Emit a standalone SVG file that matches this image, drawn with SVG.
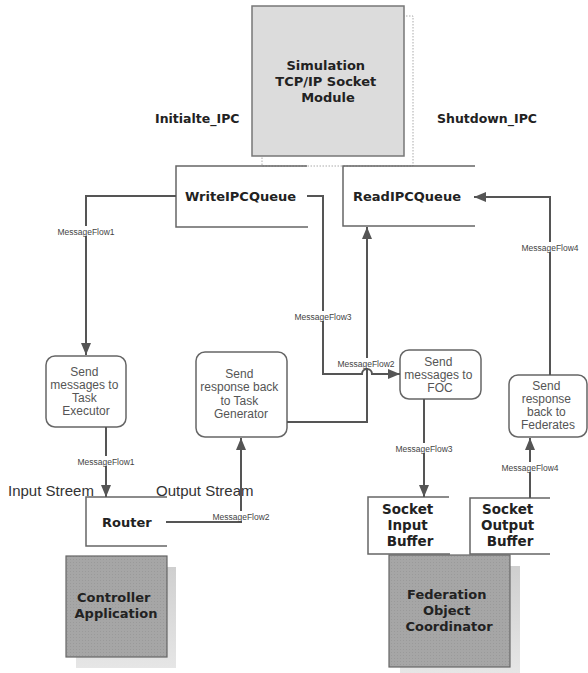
<svg xmlns="http://www.w3.org/2000/svg" width="588" height="673" viewBox="0 0 588 673">
  <defs>
    <marker id="arrow" markerUnits="userSpaceOnUse" markerWidth="12" markerHeight="10" refX="12" refY="5" orient="auto">
      <path d="M0,0 L12,5 L0,10 Z" fill="#555"/>
    </marker>
    <pattern id="grain" width="3" height="3" patternUnits="userSpaceOnUse">
      <rect width="3" height="3" fill="#a6a6a6"/>
      <rect x="1" y="1" width="1" height="1" fill="#9a9a9a"/>
    </pattern>
    <linearGradient id="shade" x1="0" y1="0" x2="0" y2="1">
      <stop offset="0" stop-color="#cfcfcf"/>
      <stop offset="1" stop-color="#e6e6e6"/>
    </linearGradient>
  </defs>
  <style>
    .bold { font-family: "DejaVu Sans", Verdana, sans-serif; font-weight: bold; fill: #222; }
    .title { font-size: 13px; }
    .big { font-size: 13.5px; }
    .rtext { font-family: "Liberation Sans", Arial, sans-serif; font-size: 12px; fill: #555; }
    .stream { font-family: "Liberation Sans", Arial, sans-serif; font-size: 15px; fill: #333; }
    .flow { font-family: "Liberation Sans", Arial, sans-serif; font-size: 8.5px; fill: #444; }
    .rbox { fill: #fff; stroke: #666; stroke-width: 1.5; }
    .open { fill: none; stroke: #666; stroke-width: 1.5; }
    .conn { fill: none; stroke: #555; stroke-width: 2; }
    .lbg { fill: #fff; }
  </style>

  <rect width="588" height="673" fill="#fff"/>

  <!-- Simulation module with dotted shadow outline -->
  <g id="socket-module">
    <rect x="262" y="16" width="151" height="150" fill="none" stroke="#aaa" stroke-width="1" stroke-dasharray="1.5 1.5"/>
    <rect x="252" y="6" width="152" height="150" fill="#dcdcdc" stroke="#777" stroke-width="1.5"/>
    <text class="bold title" text-anchor="middle">
      <tspan x="328" y="70">Simulation</tspan>
      <tspan x="328" y="86">TCP/IP Socket</tspan>
      <tspan x="328" y="102">Module</tspan>
    </text>
  </g>

  <g id="ipc-labels">
    <text class="bold" font-size="12.5" x="155" y="123">Initialte_IPC</text>
    <text class="bold" font-size="12.5" x="437" y="123">Shutdown_IPC</text>
  </g>

  <g id="write-queue">
    <path class="open" d="M307,166 H176 V227 H308"/>
    <text class="bold title" x="185" y="201">WriteIPCQueue</text>
  </g>

  <g id="read-queue">
    <path class="open" d="M475,166 H343 V226 H475"/>
    <text class="bold title" x="353" y="201">ReadIPCQueue</text>
  </g>

  <g id="task-executor">
    <rect class="rbox" x="46" y="356" width="80" height="71" rx="9"/>
    <text class="rtext" text-anchor="middle">
      <tspan x="86" y="376">Send</tspan>
      <tspan x="86" y="389">messages to</tspan>
      <tspan x="86" y="402">Task</tspan>
      <tspan x="86" y="415">Executor</tspan>
    </text>
  </g>

  <g id="task-generator">
    <rect class="rbox" x="196" y="352" width="91" height="85" rx="9"/>
    <text class="rtext" text-anchor="middle">
      <tspan x="241" y="378">Send</tspan>
      <tspan x="241" y="391">response back</tspan>
      <tspan x="241" y="405">to Task</tspan>
      <tspan x="241" y="418">Generator</tspan>
    </text>
  </g>

  <g id="foc-sender">
    <rect class="rbox" x="400" y="350" width="81" height="49" rx="9"/>
    <text class="rtext" text-anchor="middle">
      <tspan x="440" y="366">Send</tspan>
      <tspan x="440" y="379">messages to</tspan>
      <tspan x="440" y="392">FOC</tspan>
    </text>
  </g>

  <g id="federates-response">
    <rect class="rbox" x="509" y="375" width="78" height="62" rx="9"/>
    <text class="rtext" text-anchor="middle">
      <tspan x="548" y="390">Send</tspan>
      <tspan x="548" y="403">response</tspan>
      <tspan x="548" y="416">back to</tspan>
      <tspan x="548" y="429">Federates</tspan>
    </text>
  </g>

  <g id="streams">
    <text class="stream" x="8" y="496">Input Streem</text>
    <text class="stream" x="156" y="496">Output Stream</text>
  </g>

  <g id="router">
    <path class="open" d="M167,497 H86 V546 H167"/>
    <text class="bold title" x="102" y="527">Router</text>
  </g>

  <g id="socket-input-buffer">
    <path class="open" d="M449,497 H368 V554 H450"/>
    <text class="bold big" text-anchor="middle">
      <tspan x="410" y="514">Socket</tspan>
      <tspan x="410" y="530">Input</tspan>
      <tspan x="410" y="546">Buffer</tspan>
    </text>
  </g>

  <g id="socket-output-buffer">
    <path class="open" d="M550,498 H470 V554 H550"/>
    <text class="bold big" text-anchor="middle">
      <tspan x="510" y="514">Socket</tspan>
      <tspan x="510" y="530">Output</tspan>
      <tspan x="510" y="546">Buffer</tspan>
    </text>
  </g>

  <g id="controller-application">
    <rect x="76" y="567" width="100" height="101" fill="url(#shade)"/>
    <rect x="66" y="556" width="101" height="101" fill="url(#grain)" stroke="#666" stroke-width="1.2"/>
    <text class="bold title" text-anchor="middle">
      <tspan x="116" y="602">Controller</tspan>
      <tspan x="116" y="618">Application</tspan>
    </text>
  </g>

  <g id="federation-object-coordinator">
    <rect x="400" y="566" width="120" height="107" fill="url(#shade)"/>
    <rect x="389" y="555" width="121" height="112" fill="url(#grain)" stroke="#666" stroke-width="1.2"/>
    <text class="bold title" text-anchor="middle">
      <tspan x="449" y="599">Federation</tspan>
      <tspan x="449" y="615">Object</tspan>
      <tspan x="449" y="631">Coordinator</tspan>
    </text>
  </g>

  <g id="connectors">
    <path class="conn" d="M176,196 H86 V355" marker-end="url(#arrow)"/>
    <path class="conn" d="M106,427 V497" marker-end="url(#arrow)"/>
    <path class="conn" d="M166,522 H241 V438" marker-end="url(#arrow)"/>
    <path class="conn" d="M287,422 H367 V227" marker-end="url(#arrow)"/>
    <path class="conn" d="M307,196 H323 V374 H362 A5,5 0 0 1 372,374 H400" marker-end="url(#arrow)"/>
    <path class="conn" d="M424,399 V497" marker-end="url(#arrow)"/>
    <path class="conn" d="M530,498 V438" marker-end="url(#arrow)"/>
    <path class="conn" d="M550,375 V197 H474" marker-end="url(#arrow)"/>

    <g id="flow-labels">
      <rect class="lbg" x="55" y="226" width="62" height="10"/>
      <text class="flow" text-anchor="middle" x="86" y="235">MessageFlow1</text>
      <rect class="lbg" x="75" y="456" width="62" height="10"/>
      <text class="flow" text-anchor="middle" x="106" y="465">MessageFlow1</text>
      <rect class="lbg" x="210" y="511" width="62" height="10"/>
      <text class="flow" text-anchor="middle" x="241" y="520">MessageFlow2</text>
      <rect class="lbg" x="335" y="358" width="62" height="10"/>
      <text class="flow" text-anchor="middle" x="366" y="367">MessageFlow2</text>
      <rect class="lbg" x="292" y="311" width="62" height="10"/>
      <text class="flow" text-anchor="middle" x="323" y="320">MessageFlow3</text>
      <rect class="lbg" x="393" y="443" width="62" height="10"/>
      <text class="flow" text-anchor="middle" x="424" y="452">MessageFlow3</text>
      <rect class="lbg" x="499" y="462" width="62" height="10"/>
      <text class="flow" text-anchor="middle" x="530" y="471">MessageFlow4</text>
      <rect class="lbg" x="519" y="242" width="62" height="10"/>
      <text class="flow" text-anchor="middle" x="550" y="251">MessageFlow4</text>
    </g>
  </g>
</svg>
